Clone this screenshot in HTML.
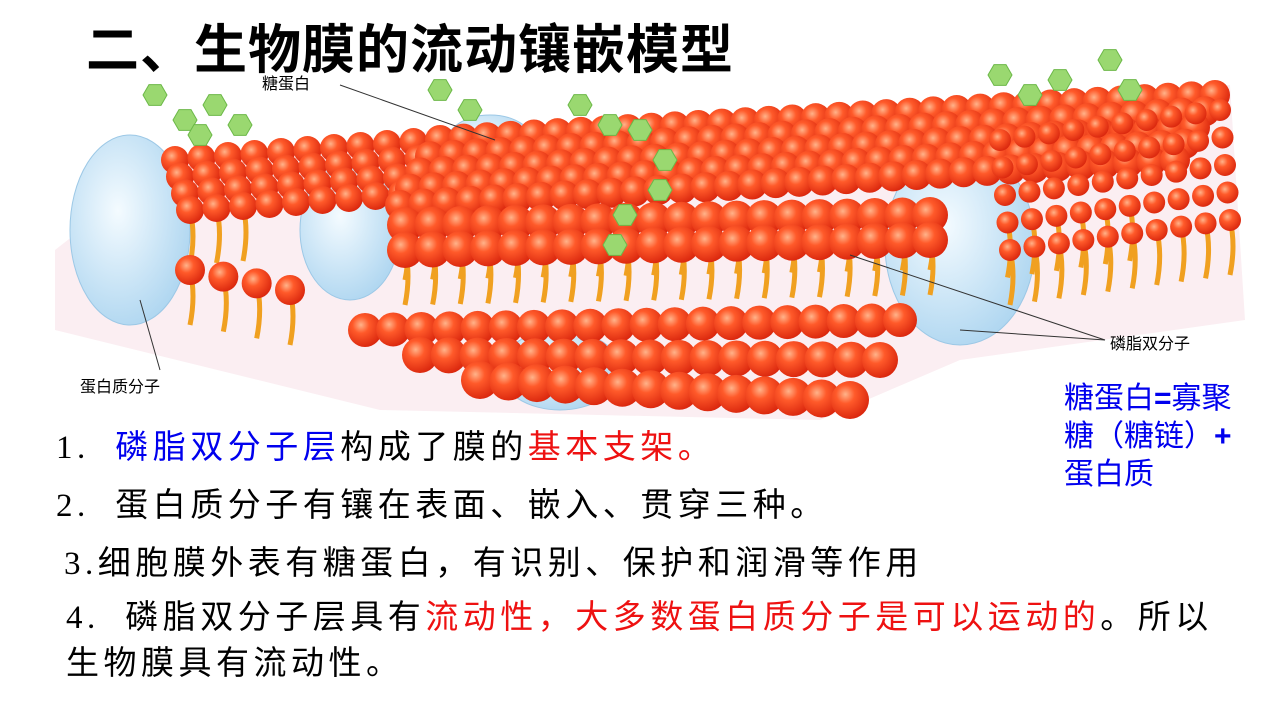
<!DOCTYPE html>
<html><head><meta charset="utf-8">
<style>
html,body{margin:0;padding:0;background:#fff;}
#slide{position:relative;width:1285px;height:720px;overflow:hidden;background:#fff;font-family:"Liberation Sans","Noto Sans CJK SC",sans-serif;}
.t{position:absolute;white-space:nowrap;color:#000;}
.p{font-family:"Liberation Serif","Noto Sans CJK SC",sans-serif;font-size:33px;letter-spacing:4.5px;}
.b{color:#0000ee}.r{color:#ee1111}
</style></head><body>
<div id="slide">
<svg id="art" width="1285" height="720" style="position:absolute;left:0;top:0">
<defs>
<radialGradient id="ball" cx="0.38" cy="0.35" r="0.7">
<stop offset="0" stop-color="#ffb38a"/><stop offset="0.35" stop-color="#ff5a2a"/><stop offset="1" stop-color="#d8240c"/>
</radialGradient>
<radialGradient id="prot" cx="0.4" cy="0.4" r="0.7">
<stop offset="0" stop-color="#f4fbff"/><stop offset="1" stop-color="#a9d3ef"/>
</radialGradient>
</defs>
<g id="bg"></g>
<g id="tails"></g>
<g id="balls"></g>
<g id="fg"></g>
</svg>
<div class="t" style="left:86px;top:8px;font-size:53px;font-weight:bold;letter-spacing:1px;">二、生物膜的流动镶嵌模型</div>
<div class="t" style="left:262px;top:70px;font-size:16px;">糖蛋白</div>
<div class="t" style="left:80px;top:373px;font-size:16px;">蛋白质分子</div>
<div class="t" style="left:1110px;top:330px;font-size:16px;">磷脂双分子</div>
<div class="t p" style="left:56px;top:420px;">1.&nbsp; <span class="b">磷脂双分子层</span>构成了膜的<span class="r">基本支架。</span></div>
<div class="t p" style="left:56px;top:478px;">2.&nbsp; 蛋白质分子有镶在表面、嵌入、贯穿三种。</div>
<div class="t p" style="left:64px;top:536px;">3.细胞膜外表有糖蛋白，有识别、保护和润滑等作用</div>
<div class="t p" style="left:66px;top:590px;">4.&nbsp; 磷脂双分子层具有<span class="r">流动性，大多数蛋白质分子是可以运动的</span>。所以</div>
<div class="t p" style="left:66px;top:636px;">生物膜具有流动性。</div>
<div class="t" style="left:1064px;top:380px;font-size:30px;color:#0000ee;line-height:38px;white-space:normal;width:200px;">糖蛋白<b>=</b>寡聚<br>糖（糖链）<b>+</b><br>蛋白质</div>
</div>
<script>
var NS="http://www.w3.org/2000/svg";
function mk(tag,attrs,parent){var e=document.createElementNS(NS,tag);for(var k in attrs)e.setAttribute(k,attrs[k]);document.getElementById(parent).appendChild(e);return e;}
var bgp=mk('path',{d:'M55 250 L170 160 L440 130 L1230 85 L1245 320 L960 360 L820 420 L380 410 L55 330 Z',fill:'#fbeef2'},'bg');


var prots=[[130,230,60,95],[490,145,45,30],[760,150,38,22],[960,245,75,100],[560,370,60,40],[1100,105,25,12],[350,230,50,70]];
prots.forEach(function(p){var e=mk('ellipse',{cx:p[0],cy:p[1],rx:p[2],ry:p[3],fill:'url(#prot)',stroke:'#9cc8e6'},'bg');

});
var rows=[];
function sheet(ax,ay,bx,by,cx,cy,n,m,r){for(var j=0;j<m;j++){var t=m>1?j/(m-1):0;var sx=ax+(cx-ax)*t,sy=ay+(cy-ay)*t,ex=bx+(cx-ax)*t,ey=by+(cy-ay)*t;rows.push([sx,sy,ex,ey,n,r]);}}
sheet(175,160,440,140,190,210,11,4,14);
sheet(440,140,1215,95,400,205,34,5,15);
sheet(405,225,930,215,405,250,20,2,18);
sheet(1000,140,1220,110,1010,250,10,5,11);
sheet(365,330,900,320,365,330,20,1,17);
sheet(420,355,880,360,420,355,17,1,18);
sheet(480,380,850,400,480,380,14,1,19);
sheet(190,270,290,290,190,270,4,1,15);
rows.forEach(function(rw){
 for(var i=0;i<rw[4];i++){var t=rw[4]>1?i/(rw[4]-1):0;var x=rw[0]+(rw[2]-rw[0])*t,y=rw[1]+(rw[3]-rw[1])*t;
  if(y>205&&y<300){var tl=mk('path',{d:'M'+x+' '+y+' q6 25 0 55',stroke:'#f0a020','stroke-width':5,fill:'none'},'tails');
   
   }
 }});
rows.forEach(function(rw){
 for(var i=0;i<rw[4];i++){var t=rw[4]>1?i/(rw[4]-1):0;var x=rw[0]+(rw[2]-rw[0])*t,y=rw[1]+(rw[3]-rw[1])*t;
  var c=mk('circle',{cx:x,cy:y,r:rw[5],fill:'url(#ball)'},'balls');
  
  }
});
var sug=[[155,95],[185,120],[215,105],[240,125],[200,135],[440,90],[470,110],[580,105],[610,125],[640,130],[665,160],[660,190],[625,215],[615,245],[1000,75],[1030,95],[1060,80],[1110,60],[1130,90]];
sug.forEach(function(s){var pts=[];for(var k=0;k<6;k++){var a=Math.PI/3*k;pts.push((s[0]+12*Math.cos(a))+','+(s[1]+12*Math.sin(a)));}
 var h=mk('polygon',{points:pts.join(' '),fill:'#9ad870',stroke:'#6cb848'},'fg');
 
 });
[[340,85,495,140],[160,370,140,300],[1105,340,850,255],[1105,340,960,330]].forEach(function(l){
 var e=mk('line',{x1:l[0],y1:l[1],x2:l[2],y2:l[3],stroke:'#333','stroke-width':1},'fg');
 
 });
</script>
</body></html>
